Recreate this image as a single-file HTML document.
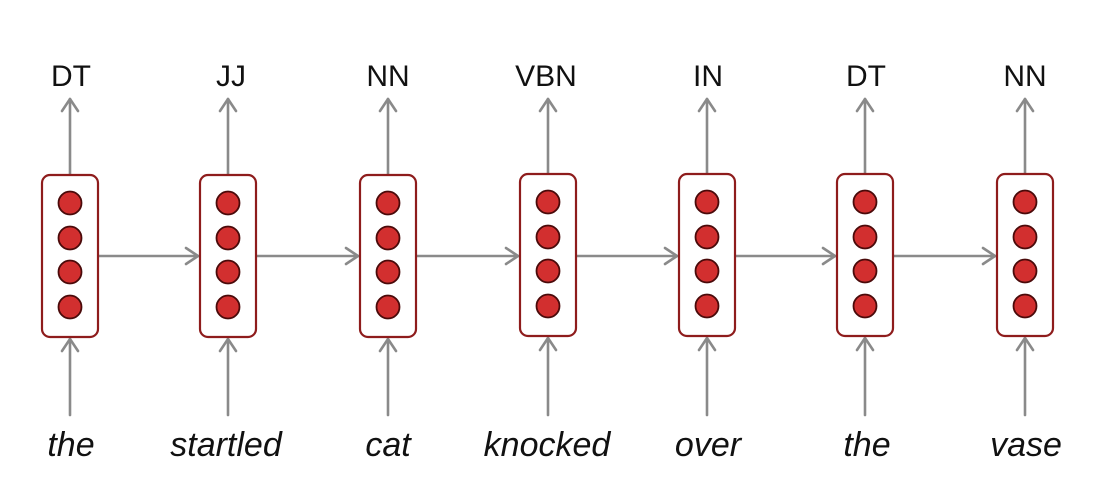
<!DOCTYPE html>
<html>
<head>
<meta charset="utf-8">
<style>
html,body{margin:0;padding:0;background:#fff;}
svg{display:block;}
.lbl{font-family:"Liberation Sans",sans-serif;font-size:30px;fill:#111;text-anchor:middle;}
.wd{font-family:"Liberation Sans",sans-serif;font-size:34px;font-style:italic;fill:#111;text-anchor:middle;}
.ar{stroke:#8a8a8a;stroke-width:2.6;fill:none;stroke-linecap:round;stroke-linejoin:round;}
.box{fill:#fff;stroke:#8e1c1c;stroke-width:2.2;}
.c{fill:#d22f2f;stroke:#4a0a0a;stroke-width:1.8;}
</style>
</head>
<body>
<svg width="1114" height="498" viewBox="0 0 1114 498" xmlns="http://www.w3.org/2000/svg">

<!-- horizontal arrows -->
<g class="ar">
  <line x1="99" y1="256" x2="198" y2="256"/><polyline points="186,248 198,256 186,264"/>
  <line x1="257" y1="256" x2="358" y2="256"/><polyline points="346,248 358,256 346,264"/>
  <line x1="417" y1="256" x2="518" y2="256"/><polyline points="506,248 518,256 506,264"/>
  <line x1="577" y1="256" x2="677" y2="256"/><polyline points="665,248 677,256 665,264"/>
  <line x1="736" y1="256" x2="835" y2="256"/><polyline points="823,248 835,256 823,264"/>
  <line x1="894" y1="256" x2="995" y2="256"/><polyline points="983,248 995,256 983,264"/>
</g>

<!-- vertical arrows -->
<g class="ar">
  <line x1="70" y1="175" x2="70" y2="99"/><polyline points="62,111 70,99 78,111"/>
  <line x1="70" y1="415" x2="70" y2="339"/><polyline points="62,351 70,339 78,351"/>
  <line x1="228" y1="175" x2="228" y2="99"/><polyline points="220,111 228,99 236,111"/>
  <line x1="228" y1="415" x2="228" y2="339"/><polyline points="220,351 228,339 236,351"/>
  <line x1="388" y1="175" x2="388" y2="99"/><polyline points="380,111 388,99 396,111"/>
  <line x1="388" y1="415" x2="388" y2="339"/><polyline points="380,351 388,339 396,351"/>
  <line x1="548" y1="174" x2="548" y2="99"/><polyline points="540,111 548,99 556,111"/>
  <line x1="548" y1="415" x2="548" y2="338"/><polyline points="540,350 548,338 556,350"/>
  <line x1="707" y1="174" x2="707" y2="99"/><polyline points="699,111 707,99 715,111"/>
  <line x1="707" y1="415" x2="707" y2="338"/><polyline points="699,350 707,338 715,350"/>
  <line x1="865" y1="174" x2="865" y2="99"/><polyline points="857,111 865,99 873,111"/>
  <line x1="865" y1="415" x2="865" y2="338"/><polyline points="857,350 865,338 873,350"/>
  <line x1="1025" y1="174" x2="1025" y2="99"/><polyline points="1017,111 1025,99 1033,111"/>
  <line x1="1025" y1="415" x2="1025" y2="338"/><polyline points="1017,350 1025,338 1033,350"/>
</g>

<!-- boxes and circles -->
<g>
  <rect class="box" x="42" y="175" width="56" height="162" rx="8"/>
  <circle class="c" cx="70" cy="203" r="11.5"/><circle class="c" cx="70" cy="238" r="11.5"/><circle class="c" cx="70" cy="272" r="11.5"/><circle class="c" cx="70" cy="307" r="11.5"/>

  <rect class="box" x="200" y="175" width="56" height="162" rx="8"/>
  <circle class="c" cx="228" cy="203" r="11.5"/><circle class="c" cx="228" cy="238" r="11.5"/><circle class="c" cx="228" cy="272" r="11.5"/><circle class="c" cx="228" cy="307" r="11.5"/>

  <rect class="box" x="360" y="175" width="56" height="162" rx="8"/>
  <circle class="c" cx="388" cy="203" r="11.5"/><circle class="c" cx="388" cy="238" r="11.5"/><circle class="c" cx="388" cy="272" r="11.5"/><circle class="c" cx="388" cy="307" r="11.5"/>

  <rect class="box" x="520" y="174" width="56" height="162" rx="8"/>
  <circle class="c" cx="548" cy="202" r="11.5"/><circle class="c" cx="548" cy="237" r="11.5"/><circle class="c" cx="548" cy="271" r="11.5"/><circle class="c" cx="548" cy="306" r="11.5"/>

  <rect class="box" x="679" y="174" width="56" height="162" rx="8"/>
  <circle class="c" cx="707" cy="202" r="11.5"/><circle class="c" cx="707" cy="237" r="11.5"/><circle class="c" cx="707" cy="271" r="11.5"/><circle class="c" cx="707" cy="306" r="11.5"/>

  <rect class="box" x="837" y="174" width="56" height="162" rx="8"/>
  <circle class="c" cx="865" cy="202" r="11.5"/><circle class="c" cx="865" cy="237" r="11.5"/><circle class="c" cx="865" cy="271" r="11.5"/><circle class="c" cx="865" cy="306" r="11.5"/>

  <rect class="box" x="997" y="174" width="56" height="162" rx="8"/>
  <circle class="c" cx="1025" cy="202" r="11.5"/><circle class="c" cx="1025" cy="237" r="11.5"/><circle class="c" cx="1025" cy="271" r="11.5"/><circle class="c" cx="1025" cy="306" r="11.5"/>
</g>

<!-- tags -->
<text class="lbl" x="71" y="86">DT</text>
<text class="lbl" x="231" y="86">JJ</text>
<text class="lbl" x="388" y="86">NN</text>
<text class="lbl" x="546" y="86">VBN</text>
<text class="lbl" x="708" y="86">IN</text>
<text class="lbl" x="866" y="86">DT</text>
<text class="lbl" x="1025" y="86">NN</text>

<!-- words -->
<text class="wd" x="71" y="456">the</text>
<text class="wd" x="226" y="456">startled</text>
<text class="wd" x="388" y="456">cat</text>
<text class="wd" x="547" y="456">knocked</text>
<text class="wd" x="708" y="456">over</text>
<text class="wd" x="867" y="456">the</text>
<text class="wd" x="1026" y="456">vase</text>
</svg>
</body>
</html>
